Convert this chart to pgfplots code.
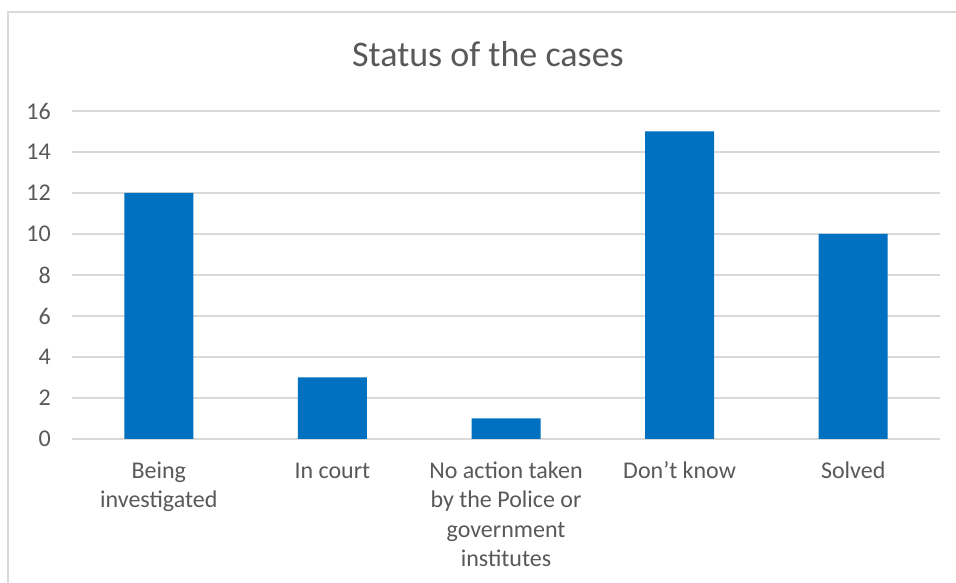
\documentclass[border=0pt]{standalone}
\usepackage{pgfplots}
\pgfplotsset{compat=1.18}
\usepackage{fontspec}
\setmainfont{Carlito}
\definecolor{barblue}{HTML}{0070C0}
\definecolor{gridgray}{HTML}{D9D9D9}
\definecolor{textgray}{HTML}{595959}
\begin{document}
\begin{tikzpicture}[x=1pt,y=1pt]
\useasboundingbox (0,0) rectangle (956,583);
\fill[white] (0,0) rectangle (956,583);
\draw[gridgray, line width=2pt] (8,-5) -- (8,571) -- (961,571);
\node[anchor=base, text=textgray, font=\fontsize{36}{43}\selectfont, inner sep=0pt] at (488,516) {Status of the cases};
\begin{axis}[
  at={(72pt,144pt)}, anchor=south west,
  scale only axis,
  width=868pt, height=328pt,
  xmin=-0.5, xmax=4.5, ymin=0, ymax=16,
  ytick={0,2,...,16},
  xtick={0,1,2,3,4},
  xticklabels={{\strut Being\\investigated},{\strut In court},{\strut No action taken\\by the Police or\\government\\institutes},{\strut Don’t know},{\strut Solved}},
  axis line style={draw=none},
  major tick length=0pt,
  ymajorgrids,
  grid style={gridgray, line width=1.5pt},
  /pgf/number format/assume math mode=true,
  yticklabel style={text=textgray, font=\fontsize{24}{29.5}\selectfont, inner sep=0pt, anchor=east, xshift=-21pt},
  xticklabel style={text=textgray, font=\fontsize{24}{29.5}\selectfont, inner sep=0pt, align=center, anchor=north, yshift=-18.5pt},
]
\draw[gridgray, line width=1.5pt] (axis cs:-0.5,0) -- (axis cs:4.5,0);
\addplot[ybar, bar width=69pt, fill=barblue, draw=none] coordinates {(0,12) (1,3) (2,1) (3,15) (4,10)};
\end{axis}
\end{tikzpicture}
\end{document}
